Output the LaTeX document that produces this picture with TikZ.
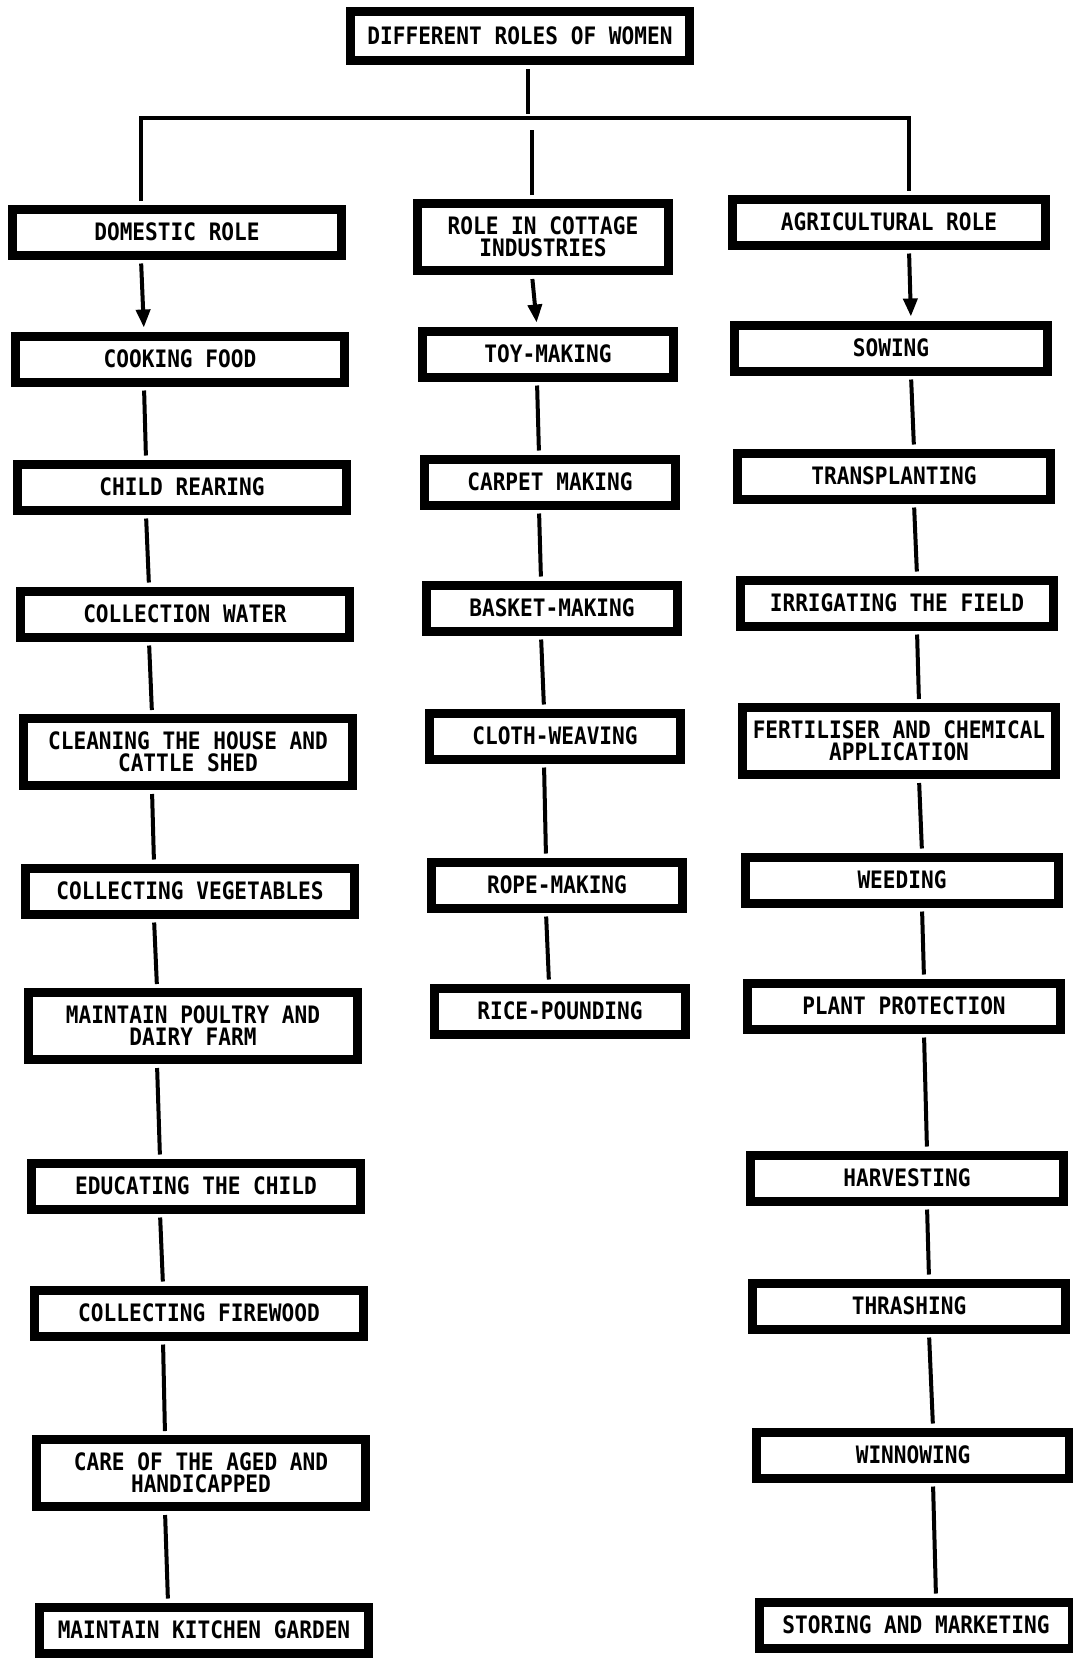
\documentclass[tikz,border=0pt]{standalone}
\usepackage{fontspec}
\setmonofont{DejaVu Sans Mono}[FakeStretch=0.88]
\usetikzlibrary{arrows.meta}

\begin{document}
\begin{tikzpicture}[x=1pt,y=-1pt,>={Triangle[length=18pt,width=14pt]},
    box/.style={draw,line width=9pt,fill=white,inner sep=0pt,align=center,
      minimum height=46pt,font=\ttfamily\bfseries\fontsize{24}{22}\selectfont},
    lbox/.style={box,minimum width=329pt},
    mbox/.style={box,minimum width=251pt},
    rbox/.style={box,minimum width=313pt},
    tall/.style={minimum height=67pt},
    link/.style={line width=4pt,shorten <=4pt,shorten >=4pt}]
    \fill[white] (0,0) rectangle (1073,1658);
    \useasboundingbox (0,0) rectangle (1073,1658);

    \node[box,minimum width=339pt,minimum height=49pt] (title) at (520,36) {DIFFERENT ROLES OF WOMEN};
    \coordinate (bus) at (0,118);

    \node[lbox] (dom) at (177,232) {DOMESTIC ROLE};
    \node[lbox] (cook) at (180,359) {COOKING FOOD};
    \node[lbox] (child) at (182,487) {CHILD REARING};
    \node[lbox] (water) at (185,614) {COLLECTION WATER};
    \node[lbox,tall] (clean) at (188,752) {CLEANING THE HOUSE AND\\CATTLE SHED};
    \node[lbox] (veg) at (190,891) {COLLECTING VEGETABLES};
    \node[lbox,tall] (poultry) at (193,1026) {MAINTAIN POULTRY AND\\DAIRY FARM};
    \node[lbox] (edu) at (196,1186) {EDUCATING THE CHILD};
    \node[lbox] (fire) at (199,1313) {COLLECTING FIREWOOD};
    \node[lbox,tall] (care) at (201,1473) {CARE OF THE AGED AND\\HANDICAPPED};
    \node[lbox] (garden) at (204,1630) {MAINTAIN KITCHEN GARDEN};

    \node[mbox,tall] (cottage) at (543,237) {ROLE IN COTTAGE\\INDUSTRIES};
    \node[mbox] (toy) at (548,354) {TOY-MAKING};
    \node[mbox] (carpet) at (550,482) {CARPET MAKING};
    \node[mbox] (basket) at (552,608) {BASKET-MAKING};
    \node[mbox] (cloth) at (555,736) {CLOTH-WEAVING};
    \node[mbox] (rope) at (557,885) {ROPE-MAKING};
    \node[mbox] (rice) at (560,1011) {RICE-POUNDING};

    \node[rbox] (agri) at (889,222) {AGRICULTURAL ROLE};
    \node[rbox] (sow) at (891,348) {SOWING};
    \node[rbox] (transpl) at (894,476) {TRANSPLANTING};
    \node[rbox] (irrig) at (897,603) {IRRIGATING THE FIELD};
    \node[rbox,tall] (fert) at (899,741) {FERTILISER AND CHEMICAL\\APPLICATION};
    \node[rbox] (weed) at (902,880) {WEEDING};
    \node[rbox] (protect) at (904,1006) {PLANT PROTECTION};
    \node[rbox] (harvest) at (907,1178) {HARVESTING};
    \node[rbox] (thrash) at (909,1306) {THRASHING};
    \node[rbox] (winnow) at (913,1455) {WINNOWING};
    \node[rbox] (store) at (916,1625) {STORING AND MARKETING};

    \draw[link] ([xshift=8pt]title.south) -- ([xshift=8pt]title.south |- bus);
    \draw[link] ([xshift=-36pt]dom.north) |- ([xshift=20pt]agri.north |- bus) -- ([xshift=20pt]agri.north);
    \draw[link,shorten >=12pt] ([xshift=-11pt]cottage.north) -- ([xshift=-11pt]cottage.north |- bus);

    \draw[link,->] ([xshift=-36pt]dom.south) -- ([xshift=-36pt]cook.north);
    \draw[link,->] ([xshift=-11pt]cottage.south) -- ([xshift=-11pt]toy.north);
    \draw[link,->] ([xshift=20pt]agri.south) -- ([xshift=20pt]sow.north);

    \foreach \a/\b in {cook/child,child/water,water/clean,clean/veg,veg/poultry,
      poultry/edu,edu/fire,fire/care,care/garden}
      \draw[link] ([xshift=-36pt]\a.south) -- ([xshift=-36pt]\b.north);
    \foreach \a/\b in {toy/carpet,carpet/basket,basket/cloth,cloth/rope,rope/rice}
      \draw[link] ([xshift=-11pt]\a.south) -- ([xshift=-11pt]\b.north);
    \foreach \a/\b in {sow/transpl,transpl/irrig,irrig/fert,fert/weed,weed/protect,
      protect/harvest,harvest/thrash,thrash/winnow,winnow/store}
      \draw[link] ([xshift=20pt]\a.south) -- ([xshift=20pt]\b.north);
\end{tikzpicture}
\end{document}
